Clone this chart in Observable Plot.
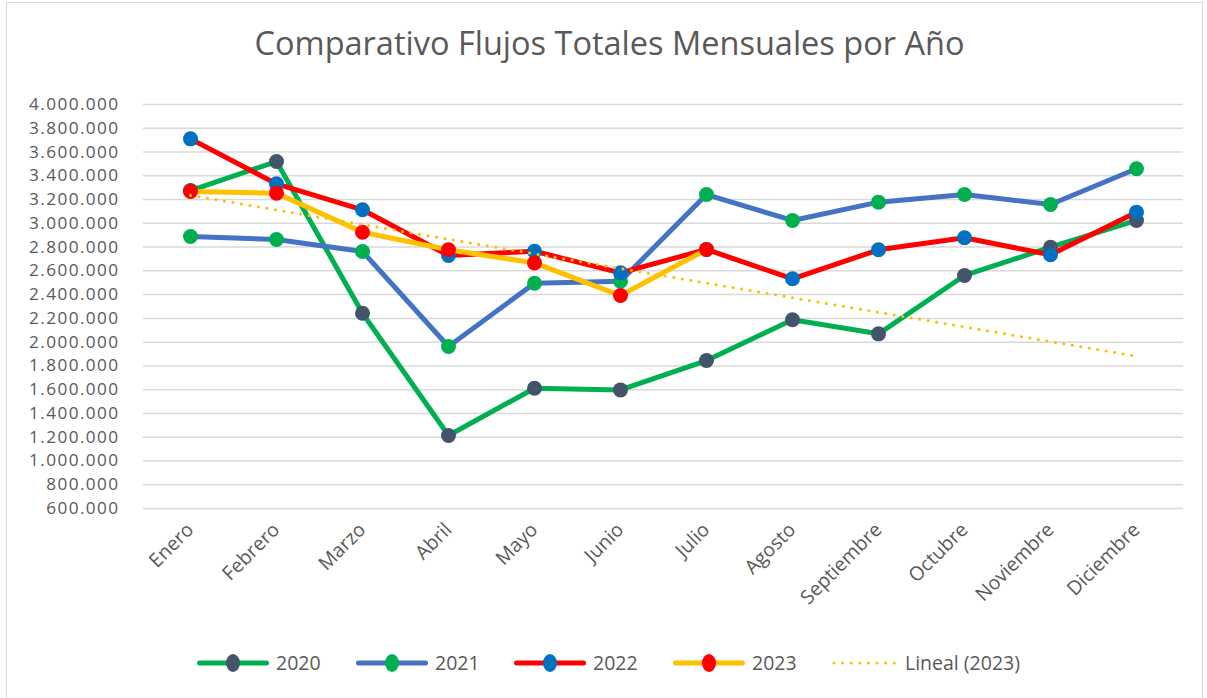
<!DOCTYPE html>
<html>
<head>
<meta charset="utf-8">
<script src="https://cdn.jsdelivr.net/npm/d3@7"></script>
<script src="https://cdn.jsdelivr.net/npm/@observablehq/plot@0.6"></script>
<style>
  html, body { margin: 0; padding: 0; background: #fff; }
  #chart { position: relative; width: 1207px; height: 698px; overflow: hidden; font-family: "Open Sans", sans-serif; }
  #frame { position: absolute; left: 6px; top: 2px; width: 1197px; height: 700px; border: 1.5px solid #d9d9d9; box-sizing: border-box; }
  #title { position: absolute; left: 6px; width: 1207px; top: 20px; text-align: center; font-size: 32.5px; color: #595959; line-height: 46px; white-space: nowrap; }
  #plot { position: absolute; left: 0; top: 80px; }
  #legend { position: absolute; top: 651px; left: 0; width: 1207px; height: 24px; }
  .item { position: absolute; top: 0; height: 24px; display: flex; align-items: center; }
  .item span { font-size: 19.5px; color: #595959; margin-left: 7px; line-height: 24px; }
  #plot svg g[aria-label="y-axis tick label"] text { letter-spacing: 1.4px; }
</style>
</head>
<body>
<div id="chart">
  <div id="frame"></div>
  <div id="title">Comparativo Flujos Totales Mensuales por Año</div>
  <div id="plot"></div>
  <div id="legend"></div>
</div>
<script>
// ---- Data ----
const months = ["Enero", "Febrero", "Marzo", "Abril", "Mayo", "Junio", "Julio", "Agosto", "Septiembre", "Octubre", "Noviembre", "Diciembre"];
const years = ["2020", "2021", "2022", "2023"];
const v2020 = [3276000, 3520000, 2243000, 1214000, 1612000, 1598000, 1845000, 2188000, 2070000, 2561000, 2799000, 3024000];
const v2021 = [2889000, 2864000, 2763000, 1963000, 2496000, 2513000, 3242000, 3024000, 3178000, 3242000, 3158000, 3459000];
const v2022 = [3711000, 3332000, 3114000, 2729000, 2765000, 2583000, 2780000, 2533000, 2777000, 2878000, 2735000, 3094000];
const v2023 = [3268000, 3254000, 2925000, 2777000, 2667000, 2392000, 2780000];
const yTicks = [600000, 800000, 1000000, 1200000, 1400000, 1600000, 1800000, 2000000, 2200000, 2400000, 2600000, 2800000, 3000000, 3200000, 3400000, 3600000, 3800000, 4000000];
const trendLabel = "Lineal (2023)";

// ---- Styles ----
const lineColors = {"2020": "#00b050", "2021": "#4472c4", "2022": "#ff0000", "2023": "#ffc000"};
const markerColors = {"2020": "#44546a", "2021": "#00b050", "2022": "#0070c0", "2023": "#ff0000"};
const trendColor = "#ffc000";

const seriesValues = {"2020": v2020, "2021": v2021, "2022": v2022, "2023": v2023};
const series = years.map(y => ({
  year: y,
  data: seriesValues[y].map((v, i) => ({month: months[i], value: v}))
}));

// Linear trendline (least squares) of 2023, extended over all months (as Excel does)
const xs = v2023.map((_, i) => i + 1);
const mx = d3.mean(xs), my = d3.mean(v2023);
const slope = d3.sum(xs.map((x, i) => (x - mx) * (v2023[i] - my))) / d3.sum(xs.map(x => (x - mx) ** 2));
const intercept = my - slope * mx;
const trend = months.map((m, i) => ({month: m, value: intercept + slope * (i + 1)}));

const locale = d3.formatLocale({decimal: ",", thousands: ".", grouping: [3], currency: ["", ""]});
const fmt = locale.format(",d");

const marks = [
  Plot.gridY(yTicks, {stroke: "#d9d9d9", strokeOpacity: 1, strokeWidth: 1.5})
];
for (const s of series) {
  marks.push(Plot.line(s.data, {x: "month", y: "value", stroke: lineColors[s.year], strokeWidth: 5, strokeLinejoin: "round", strokeLinecap: "round"}));
  marks.push(Plot.dot(s.data, {x: "month", y: "value", r: 7.5, fill: markerColors[s.year], stroke: "none"}));
}
marks.push(Plot.line(trend, {x: "month", y: "value", stroke: trendColor, strokeWidth: 3, strokeDasharray: "0.1 8.5", strokeLinecap: "round"}));

const chart = Plot.plot({
  width: 1207,
  height: 540,
  marginTop: 24,
  marginBottom: 112,
  marginLeft: 143,
  marginRight: 24,
  style: {fontFamily: "Open Sans, sans-serif", fontSize: "19.5px", color: "#595959", background: "transparent", overflow: "visible"},
  x: {type: "point", domain: months, padding: 0.5, label: null, tickRotate: -45, tickSize: 0, tickPadding: 18},
  y: {domain: [600000, 4000000], ticks: yTicks, tickFormat: fmt, label: null, tickSize: 0, tickPadding: 24},
  marks: [
    ...marks,
    Plot.axisY(yTicks, {tickFormat: fmt, tickSize: 0, tickPadding: 24, fontSize: 17.2, label: null})
  ]
});
document.getElementById("plot").appendChild(chart);

// ---- Legend ----
const legend = document.getElementById("legend");
const legendItems = [
  {label: "2020", left: 197, line: lineColors["2020"], marker: markerColors["2020"]},
  {label: "2021", left: 356, line: lineColors["2021"], marker: markerColors["2021"]},
  {label: "2022", left: 514, line: lineColors["2022"], marker: markerColors["2022"]},
  {label: "2023", left: 673, line: lineColors["2023"], marker: markerColors["2023"]},
  {label: trendLabel, left: 832, line: trendColor, marker: null}
];
for (const it of legendItems) {
  const div = document.createElement("div");
  div.className = "item";
  div.style.left = it.left + "px";
  let sw;
  if (it.marker) {
    sw = `<svg width="72" height="24"><line x1="2.5" x2="69.5" y1="12" y2="12" stroke="${it.line}" stroke-width="5" stroke-linecap="round"/><ellipse cx="36" cy="12" rx="7" ry="9" fill="${it.marker}"/></svg>`;
  } else {
    sw = `<svg width="66" height="24"><line x1="2" x2="64" y1="12" y2="12" stroke="${it.line}" stroke-width="3" stroke-dasharray="0.1 8.5" stroke-linecap="round"/></svg>`;
  }
  div.innerHTML = sw + `<span>${it.label}</span>`;
  legend.appendChild(div);
}
</script>
</body>
</html>
